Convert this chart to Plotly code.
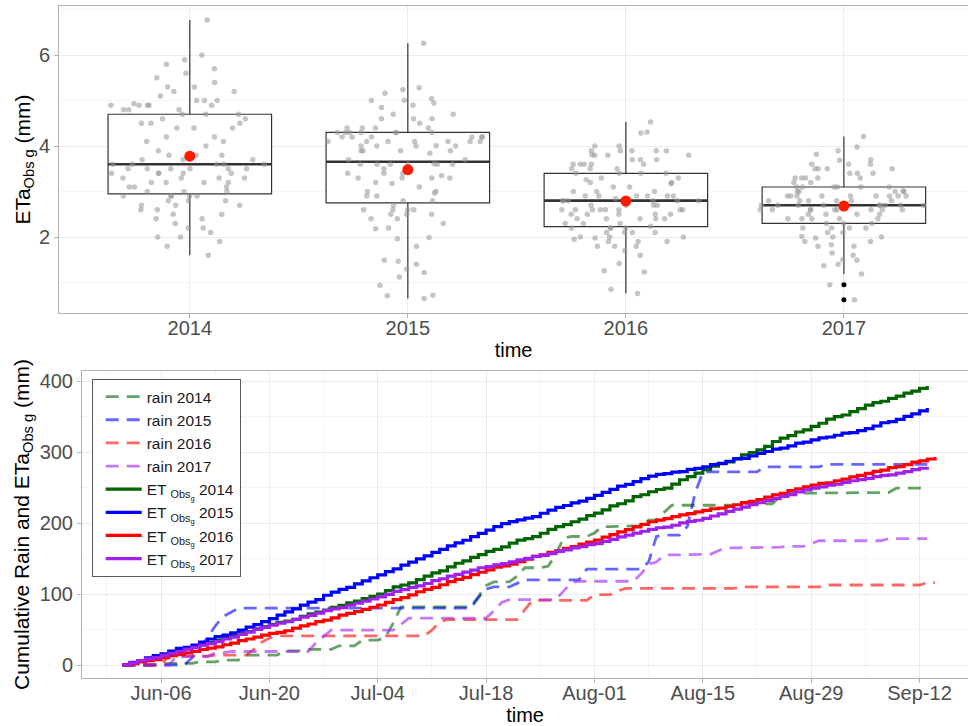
import numpy as np
import pandas as pd
import plotly.graph_objects as go

# ---------------- data ----------------
years = ["2014", "2015", "2016", "2017"]
season_start = "2014-06-01"  # axis shows month-day only

# daily ETa (mm), Jun-01 onwards
et2014 = [2.3, 3.1, 3.6, 2.0, 2.9, 3.4, 3.8, 1.8, 2.6, 3.3, 3.0, 3.2,
          3.5, 2.9, 3.4, 2.4, 3.6, 3.2,
          3.4, 2.8, 1.6, 2.5, 4.4, 3.5, 2.2, 3.1, 3.7, 2.9, 3.3, 2.5, 3.6, 3.2, 3.3,
          4.8, 5.3, 2.6, 3.0, 4.5, 5.0, 4.7, 2.8, 5.6, 5.0, 3.4, 4.9, 3.8, 4.6,
          2.9, 3.5, 5.2, 4.4, 2.1, 2.7, 4.8, 5.5, 3.9, 2.8, 4.0, 3.7, 4.9, 3.6,
          4.6, 5.4, 3.1, 4.2, 5.8, 2.7, 4.2,
          3.2, 2.0, 5.7, 6.0, 4.5, 4.9, 4.7,
          5.1, 3.5, 2.4, 4.7, 5.3, 3.3, 3.7,
          5.0, 6.77, 4.8, 3.4, 5.2, 2.9, 4.93,
          4.5, 5.9, 3.5, 2.2, 4.9, 4.1, 4.9,
          3.6, 1.9, 4.1, 3.0, 4.4, 2.7, 3.8, 3.5]
et2015 = [3.6, 2.3, 4.1, 3.3, 2.5, 3.9, 3.7, 1.4, 3.4, 4.0, 4.4, 3.4,
          2.2, 3.0, 3.9, 4.2, 3.6, 4.1,
          4.3, 5.0, 4.6, 4.3, 5.28, 4.2, 3.3, 6.26, 4.4, 4.0, 2.6, 5.16, 4.1, 4.4, 4.1,
          4.5, 3.9, 5.24, 4.2, 4.7, 4.3, 4.9, 4.01, 5.04, 4.3, 3.6, 5.01, 4.6, 4.7,
          4.95, 4.2, 2.8, 2.4, 2.6, 1.96, 4.85, 4.3, 4.0, 2.6, 3.7, 2.5, 3.84, 4.3,
          4.2, 4.3, 4.4, 2.4, 4.0, 4.1, 3.6,
          2.6, 0.94, 2.18, 0.72, 3.1, 1.47, 1.99,
          3.3, 1.8, 2.9, 3.4, 0.65, 3.6, 3.35,
          2.7, 3.5, 1.22, 3.2, 3.9, 1.3, 3.18,
          3.0, 1.12, 2.5, 2.9, 0.71, 2.8, 2.97,
          3.6, 4.6, 1.49, 3.3, 4.2, 3.61, 4.1, 4.1]
et2016 = [1.9, 2.6, 1.8, 1.42, 2.5, 2.8, 1.8, 2.3, 2.0, 2.7, 1.98, 1.8,
          2.9, 2.4, 3.5, 2.2, 2.8, 2.6,
          2.6, 1.23, 2.4, 3.7, 3.1, 2.7, 3.5, 2.1, 3.0, 3.9, 2.4, 2.5, 3.2, 3.0, 3.17,
          3.6, 4.0, 2.9, 3.9, 4.31, 3.3, 2.7, 3.8, 4.53, 3.2, 2.6, 3.9, 3.4, 3.26,
          3.8, 2.0, 2.2, 3.7, 3.4, 3.9, 2.1, 3.7, 2.0, 3.6, 2.5, 3.6, 2.6, 2.9,
          4.29, 3.4, 3.9, 3.1, 4.0, 3.4, 3.81,
          2.4, 1.9, 2.8, 2.6, 1.7, 2.5, 2.1,
          2.3, 0.85, 2.6, 2.2, 2.9, 1.95, 2.2,
          3.6, 3.3, 2.1, 3.8, 2.6, 2.8, 2.3,
          2.5, 0.76, 2.9, 2.4, 3.0, 2.24, 2.8,
          2.8, 1.9, 3.5, 1.26, 2.9, 3.6, 1.6, 2.7, 2.84]
et2017 = [2.9, 3.3, 2.4, 1.9, 3.1, 2.8, 2.6, 3.4, 2.5, 2.9, 2.3, 2.9,
          3.6, 2.7, 3.98, 3.1, 3.82, 2.8,
          3.2, 2.6, 2.1, 3.5, 2.9, 2.7, 3.0, 3.69, 2.4, 1.8, 3.3, 2.8, 3.1, 2.9, 3.01,
          3.4, 4.21, 2.7, 3.0, 2.2, 3.3, 3.9, 2.8, 3.6, 2.6, 3.1, 2.7, 3.5, 1.49,
          2.7, 1.6, 2.5, 2.9, 2.0, 2.8, 1.37, 2.6, 3.0, 2.2, 2.7, 1.83, 2.9, 1.4,
          3.2, 2.7, 3.5, 2.4, 3.0, 2.6, 2.6,
          2.3, 0.95, 2.6, 3.3, 2.1, 1.65, 2.6,
          3.4, 2.9, 3.7, 3.1, 2.8, 3.5, 2.6,
          3.1, 2.7, 3.3, 2.5, 3.6, 2.9, 2.4,
          2.0, 2.4, 1.19, 2.7, 2.2, 1.5, 2.01,
          2.3, 1.8, 0.62, 2.5, 2.2, 2.7, 1.98, 1.9]

# rain events: day index after Jun-01, amount (mm)
rain2014_day = [5, 6, 10, 13, 16, 21, 24, 28, 31, 34, 35, 36, 46, 47, 48, 51, 52, 55, 56, 57,
                58, 61, 62, 66, 68, 70, 71, 80, 85, 86, 97, 100]
rain2014_mm = [1.2, 1.1, 2.0, 2.7, 7.0, 6.0, 2.0, 5.0, 8.0, 4.0, 20.0, 23.0, 14.0, 16.0, 5.0, 8.0,
               12.0, 2.0, 16.0, 24.0, 2.0, 5.0, 9.0, 1.0, 8.0, 11.0, 10.0, 2.0, 11.0, 4.0, 1.0, 6.0]
rain2015_day = [9, 10, 11, 12, 13, 14, 15, 46, 47, 48, 51, 52, 60, 68, 69, 70, 73, 74, 75, 83, 91]
rain2015_mm = [10, 15, 13, 17, 13, 6, 6, 15, 12, 3, 5, 5, 15, 10, 36, 2, 12, 47, 30, 7, 3.6]
rain2016_day = [6, 12, 17, 18, 19, 20, 40, 41, 42, 52, 53, 61, 64, 65, 80, 91, 104]
rain2016_mm = [12.5, 1.5, 8, 10, 6, 3, 8, 12, 3, 14, 13, 8, 5, 4, 2, 2.7, 3.3]
rain2017_day = [7, 12, 14, 25, 26, 27, 36, 37, 48, 49, 50, 57, 58, 59, 67, 68, 69, 70, 74, 77,
                78, 83, 86, 89, 90, 99]
rain2017_mm = [12, 5, 2, 12, 9, 9, 8, 9, 10, 12, 4, 12, 12, 2, 10, 14, 3, 10, 1, 5, 4, 1, 1, 4, 4, 3]

# ---------------- style ----------------
FONT = "Liberation Sans, Arial, Helvetica, sans-serif"
et_colors = ["#006400", "#0000FF", "#FF0000", "#A020F0"]
rain_colors = ["rgba(0,100,0,0.6)", "rgba(0,0,255,0.6)", "rgba(255,0,0,0.6)", "rgba(160,32,240,0.6)"]
GRID = "#ebebeb"
MINOR = "#f5f5f5"
FRAME = "#b3b3b3"
TICKTXT = "#4d4d4d"

et_all = [et2014, et2015, et2016, et2017]
rain_days = [rain2014_day, rain2015_day, rain2016_day, rain2017_day]
rain_mms = [rain2014_mm, rain2015_mm, rain2016_mm, rain2017_mm]

fig = go.Figure()

# ---------------- top panel: box + points + mean ----------------
for yr, v in zip(years, et_all):
    fig.add_trace(go.Box(
        x=[yr] * len(v), y=v, boxpoints="outliers",
        marker=dict(color="black", size=5),
        line=dict(color="#333333", width=1.2), fillcolor="white",
        whiskerwidth=0, showlegend=False, hoverinfo="skip",
        xaxis="x", yaxis="y"))
    m = float(np.median(v))
    fig.add_trace(go.Box(
        x=[yr], q1=[m], median=[m], q3=[m], lowerfence=[m], upperfence=[m],
        line=dict(color="#333333", width=2.6), fillcolor="rgba(0,0,0,0)",
        whiskerwidth=0, showlegend=False, hoverinfo="skip",
        xaxis="x", yaxis="y"))
for yr, v in zip(years, et_all):
    fig.add_trace(go.Box(
        x=[yr] * len(v), y=v, boxpoints="all", jitter=1, pointpos=0, width=0.78,
        marker=dict(color="rgba(150,150,150,0.55)", size=5.5),
        line=dict(color="rgba(0,0,0,0)", width=0), fillcolor="rgba(0,0,0,0)",
        whiskerwidth=0, showlegend=False, hoverinfo="skip",
        xaxis="x", yaxis="y"))
fig.add_trace(go.Scatter(
    x=years, y=[float(np.mean(v)) for v in et_all], mode="markers",
    marker=dict(color="#FF1A00", size=11), showlegend=False, hoverinfo="skip",
    xaxis="x", yaxis="y"))

# ---------------- bottom panel: cumulative rain and ET ----------------
for i, yr in enumerate(years):
    n = len(et_all[i])
    dates = pd.date_range(season_start, periods=n + 1, freq="D")
    daily = np.zeros(n + 1)
    np.add.at(daily, rain_days[i], rain_mms[i])
    fig.add_trace(go.Scatter(
        x=dates, y=np.cumsum(daily), mode="lines", name=f"rain {yr}",
        line=dict(color=rain_colors[i], width=2.8, dash="13px,8px"),
        xaxis="x2", yaxis="y2", hoverinfo="skip"))
for i, yr in enumerate(years):
    n = len(et_all[i])
    dates = pd.date_range(season_start, periods=n + 1, freq="D")
    cum = np.concatenate([[0.0], np.cumsum(et_all[i])])
    fig.add_trace(go.Scatter(
        x=dates, y=cum, mode="lines", name=f"ET <sub>Obs<sub>g</sub></sub> {yr}",
        line=dict(color=et_colors[i], width=3.2, shape="hv"),
        xaxis="x2", yaxis="y2", hoverinfo="skip"))

t0 = pd.Timestamp(season_start)
DAY = 86400000
X_END = 0.997  # right edge of both panels (paper fraction)

axis_common = dict(showline=True, linecolor=FRAME, linewidth=1, zeroline=False,
                   ticks="outside", ticklen=4, tickcolor=FRAME, automargin=False,
                   tickfont=dict(family=FONT, size=20, color=TICKTXT),
                   gridcolor=GRID, gridwidth=1)

fig.update_layout(
    width=971, height=726,
    margin=dict(l=0, r=0, t=0, b=0),
    paper_bgcolor="white", plot_bgcolor="white",
    boxmode="overlay", boxgap=0.25, boxgroupgap=0,
    font=dict(family=FONT, color="black"),
    xaxis=dict(domain=[59 / 971, X_END], range=[-0.6, 3.583 - (1 - X_END) * 971 / 218], type="category",
               mirror=True, anchor="y", ticklabelstandoff=-7,
               title=dict(text="time", font=dict(family=FONT, size=20, color="black"), standoff=4),
               **axis_common),
    yaxis=dict(domain=[1 - 313 / 726, 1 - 6 / 726], range=[0.33, 7.08],
               tick0=0, dtick=2, mirror=False, anchor="x",
               minor=dict(dtick=1, tick0=0, showgrid=True, gridcolor=MINOR, ticks=""),
               title=dict(text="ETa<sub>Obs g</sub> (mm)",
                          font=dict(family=FONT, size=21, color="black"), standoff=2),
               **axis_common),
    xaxis2=dict(domain=[82 / 971, X_END], type="date",
                range=[t0 + pd.Timedelta(days=-5.21),
                       t0 + pd.Timedelta(days=109.65 - (1 - X_END) * 971 / 7.74)],
                tick0="2014-06-06", dtick=14 * DAY, tickformat="%b-%d",
                minor=dict(dtick=7 * DAY, tick0="2014-06-06", showgrid=True, gridcolor=MINOR, ticks=""),
                mirror=True, anchor="y2", ticklabelstandoff=-7,
                title=dict(text="time", font=dict(family=FONT, size=20, color="black"), standoff=9),
                **axis_common),
    yaxis2=dict(domain=[1 - 678 / 726, 1 - 371 / 726], range=[-18.3, 414.1],
                tick0=0, dtick=100, mirror=False, anchor="x2",
                minor=dict(dtick=50, tick0=0, showgrid=True, gridcolor=MINOR, ticks=""),
                title=dict(text="Cumulative Rain and ETa<sub>Obs g</sub> (mm)",
                           font=dict(family=FONT, size=21, color="black"), standoff=4),
                **axis_common),
    legend=dict(x=91.7 / 971, y=1 - 379 / 726, xanchor="left", yanchor="top",
                bgcolor="white", bordercolor="#595959", borderwidth=1,
                font=dict(family=FONT, size=15.5, color="#1a1a1a"),
                tracegroupgap=0, indentation=8, itemwidth=36),
    showlegend=True,
)

fig.write_html(
    "out.html",
    config={"displayModeBar": False},
    post_script=("document.body.style.margin='0';document.body.style.overflow='hidden';"
                 "document.documentElement.style.overflow='hidden';"),
)
